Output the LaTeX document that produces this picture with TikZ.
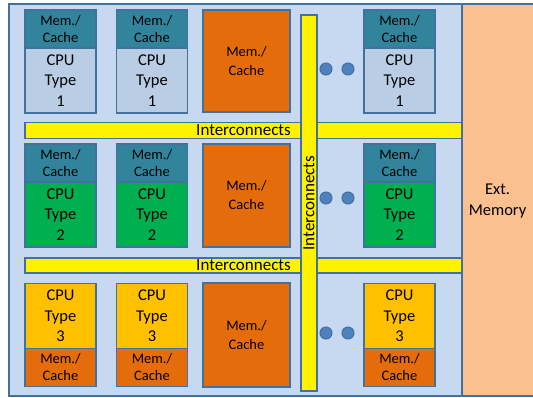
\documentclass[tikz,border=0pt]{standalone}
\usepackage{fontspec}
\setmainfont{Carlito}
\usetikzlibrary{positioning}
\definecolor{panelblue}{HTML}{C6D9F1}
\definecolor{lineblue}{HTML}{41719C}
\definecolor{cacheteal}{HTML}{31849B}
\definecolor{cpublue}{HTML}{B9CDE5}
\definecolor{cpugreen}{HTML}{00B050}
\definecolor{cpugold}{HTML}{FFC000}
\definecolor{memorange}{HTML}{E46C0A}
\definecolor{extorange}{HTML}{FAC090}
\definecolor{dotblue}{HTML}{4F81BD}

\tikzset{
  box/.style={draw=lineblue, line width=1.5pt, inner sep=0pt, outer sep=0pt, align=center, text=black},
  memtop/.style={box, minimum width=71pt, minimum height=38pt, font=\fontsize{14.5}{17}\selectfont},
  cpubox/.style={box, minimum width=71pt, minimum height=65pt, font=\fontsize{16.5}{20.5}\selectfont},
  bigmem/.style={box, fill=memorange, minimum width=87pt, font=\fontsize{14.5}{19}\selectfont},
  bus/.style={box, fill=yellow, font=\fontsize{17}{18}\selectfont},
  dot/.style={circle, draw=lineblue, line width=1pt, fill=dotblue, minimum size=12pt, inner sep=0pt}
}

\begin{document}
\begin{tikzpicture}[x=1pt, y=-1pt]
      \useasboundingbox (0,0) rectangle (533,397);
      \draw[lineblue, line width=2pt, fill=panelblue] (9,4) rectangle (462,396);
      \draw[lineblue, line width=2pt, fill=extorange] (462,4) rectangle (540,396);
      \node[align=center, font=\fontsize{16.5}{21.5}\selectfont] (ext) at (497.5,201) {Ext.\\Memory};

      % interconnects
      \node[bus, minimum width=437pt, minimum height=16pt] (bus1) at (243.5,130.5) {Interconnects};
      \node[bus, minimum width=437pt, minimum height=15pt] (bus2) at (243.5,265.5) {Interconnects};
      \node[bus, rotate=90, minimum width=376pt, minimum height=16pt] (busv) at (309,203) {Interconnects};

      % type 1
      \node[memtop, fill=cacheteal] (mem1a) at (60.5,29) {Mem./\\Cache};
      \node[cpubox, fill=cpublue, below=0pt of mem1a] (cpu1a) {CPU\\Type\\1};
      \node[memtop, fill=cacheteal] (mem1b) at (152,29) {Mem./\\Cache};
      \node[cpubox, fill=cpublue, below=0pt of mem1b] (cpu1b) {CPU\\Type\\1};
      \node[bigmem, minimum height=102pt] (big1) at (246.5,61) {Mem./\\Cache};
      \node[memtop, fill=cacheteal] (mem1c) at (399.5,29) {Mem./\\Cache};
      \node[cpubox, fill=cpublue, below=0pt of mem1c] (cpu1c) {CPU\\Type\\1};
      \node[dot] (dot1a) at (326,69) {};
      \node[dot] (dot1b) at (348,69) {};

      % type 2
      \node[memtop, fill=cacheteal] (mem2a) at (60.5,163) {Mem./\\Cache};
      \node[cpubox, fill=cpugreen, below=0pt of mem2a] (cpu2a) {CPU\\Type\\2};
      \node[memtop, fill=cacheteal] (mem2b) at (152,163) {Mem./\\Cache};
      \node[cpubox, fill=cpugreen, below=0pt of mem2b] (cpu2b) {CPU\\Type\\2};
      \node[bigmem, minimum height=103pt] (big2) at (246.5,195.5) {Mem./\\Cache};
      \node[memtop, fill=cacheteal] (mem2c) at (399.5,163) {Mem./\\Cache};
      \node[cpubox, fill=cpugreen, below=0pt of mem2c] (cpu2c) {CPU\\Type\\2};
      \node[dot] (dot2a) at (326,198) {};
      \node[dot] (dot2b) at (348,198) {};

      % type 3
      \node[cpubox, fill=cpugold] (cpu3a) at (60.5,316) {CPU\\Type\\3};
      \node[memtop, fill=memorange, below=0pt of cpu3a] (mem3a) {Mem./\\Cache};
      \node[cpubox, fill=cpugold] (cpu3b) at (152,316) {CPU\\Type\\3};
      \node[memtop, fill=memorange, below=0pt of cpu3b] (mem3b) {Mem./\\Cache};
      \node[bigmem, minimum height=104pt] (big3) at (246.5,335) {Mem./\\Cache};
      \node[cpubox, fill=cpugold] (cpu3c) at (399.5,316) {CPU\\Type\\3};
      \node[memtop, fill=memorange, below=0pt of cpu3c] (mem3c) {Mem./\\Cache};
      \node[dot] (dot3a) at (326,333) {};
      \node[dot] (dot3b) at (348,333) {};
\end{tikzpicture}
\end{document}
